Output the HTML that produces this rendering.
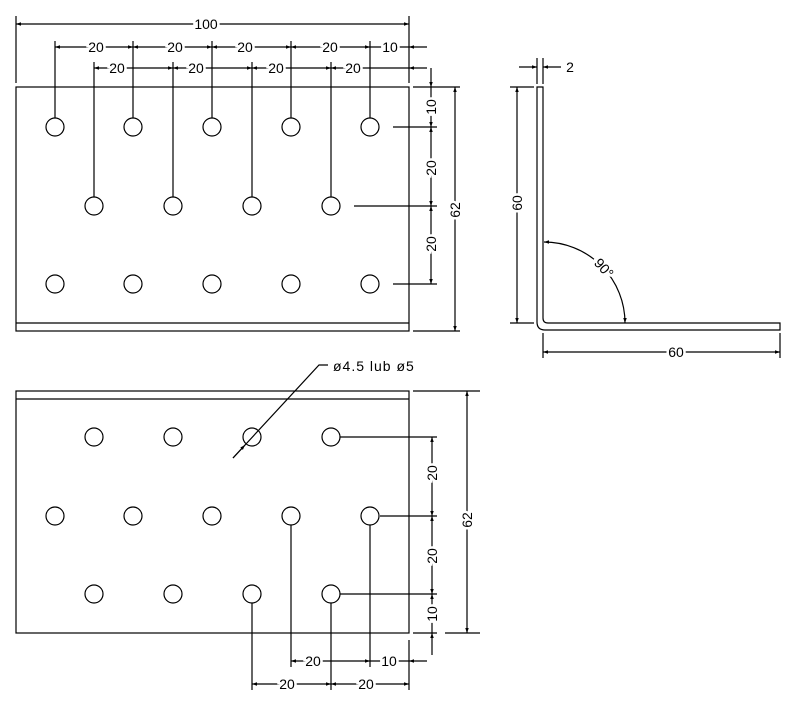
<!DOCTYPE html>
<html><head><meta charset="utf-8"><style>
html,body{margin:0;padding:0;background:#fff}
svg{display:block}
text{font-family:"Liberation Sans",sans-serif;font-size:14px;fill:#000;stroke:#fff;stroke-width:5px;paint-order:stroke;text-anchor:middle;dominant-baseline:central}
</style></head><body>
<svg width="794" height="703" viewBox="0 0 794 703" xmlns="http://www.w3.org/2000/svg">
<defs>
<marker id="a" viewBox="0 0 10 10" refX="10" refY="5" markerWidth="9" markerHeight="5" orient="auto-start-reverse" markerUnits="userSpaceOnUse"><path d="M0,1.5L10,5L0,8.5z" fill="#000"/></marker>
</defs>
<g stroke="#000" stroke-width="1.2" fill="none">
<rect x="16" y="87" width="393" height="244"/>
<line x1="16" y1="323" x2="409" y2="323"/>
<g>
<circle cx="55" cy="127" r="9"/><circle cx="133" cy="127" r="9"/><circle cx="212" cy="127" r="9"/><circle cx="291" cy="127" r="9"/><circle cx="370" cy="127" r="9"/>
<circle cx="94" cy="206" r="9"/><circle cx="173" cy="206" r="9"/><circle cx="252" cy="206" r="9"/><circle cx="331" cy="206" r="9"/>
<circle cx="55" cy="284" r="9"/><circle cx="133" cy="284" r="9"/><circle cx="212" cy="284" r="9"/><circle cx="291" cy="284" r="9"/><circle cx="370" cy="284" r="9"/>
</g>
<line x1="16" y1="16" x2="16" y2="83"/><line x1="409" y1="16" x2="409" y2="83"/>
<line x1="16" y1="24" x2="409" y2="24" marker-start="url(#a)" marker-end="url(#a)"/>
<line x1="55" y1="41" x2="55" y2="118"/><line x1="133" y1="41" x2="133" y2="118"/><line x1="212" y1="41" x2="212" y2="118"/><line x1="291" y1="41" x2="291" y2="118"/><line x1="370" y1="41" x2="370" y2="118"/>
<line x1="94" y1="62" x2="94" y2="197"/><line x1="173" y1="62" x2="173" y2="197"/><line x1="252" y1="62" x2="252" y2="197"/><line x1="331" y1="62" x2="331" y2="197"/>
<line x1="55" y1="47" x2="133" y2="47" marker-start="url(#a)" marker-end="url(#a)"/>
<line x1="133" y1="47" x2="212" y2="47" marker-start="url(#a)" marker-end="url(#a)"/>
<line x1="212" y1="47" x2="291" y2="47" marker-start="url(#a)" marker-end="url(#a)"/>
<line x1="291" y1="47" x2="370" y2="47" marker-start="url(#a)" marker-end="url(#a)"/>
<line x1="370" y1="47" x2="409" y2="47"/>
<line x1="427" y1="47" x2="409" y2="47" marker-end="url(#a)"/>
<line x1="94" y1="68" x2="173" y2="68" marker-start="url(#a)" marker-end="url(#a)"/>
<line x1="173" y1="68" x2="252" y2="68" marker-start="url(#a)" marker-end="url(#a)"/>
<line x1="252" y1="68" x2="331" y2="68" marker-start="url(#a)" marker-end="url(#a)"/>
<line x1="331" y1="68" x2="409" y2="68" marker-start="url(#a)"/>
<line x1="427" y1="68" x2="409" y2="68" marker-end="url(#a)"/>
<line x1="413" y1="87" x2="460" y2="87"/><line x1="413" y1="331" x2="460" y2="331"/>
<line x1="393" y1="127" x2="437" y2="127"/><line x1="354" y1="206" x2="437" y2="206"/><line x1="393" y1="284" x2="437" y2="284"/>
<line x1="431" y1="68" x2="431" y2="87" marker-end="url(#a)"/>
<line x1="431" y1="87" x2="431" y2="127" marker-end="url(#a)"/>
<line x1="431" y1="127" x2="431" y2="206" marker-start="url(#a)" marker-end="url(#a)"/>
<line x1="431" y1="206" x2="431" y2="284" marker-start="url(#a)" marker-end="url(#a)"/>
<line x1="455" y1="87" x2="455" y2="331" marker-start="url(#a)" marker-end="url(#a)"/>

<path d="M537,87 H543 V318 Q543,323 548,323 H780 V330 H545 Q537,330 537,322 Z"/>
<line x1="537" y1="58" x2="537" y2="84"/><line x1="543" y1="58" x2="543" y2="84"/>
<line x1="519" y1="67" x2="537" y2="67" marker-end="url(#a)"/>
<line x1="561" y1="67" x2="543" y2="67" marker-end="url(#a)"/>
<line x1="510" y1="87" x2="534" y2="87"/><line x1="510" y1="323" x2="534" y2="323"/>
<line x1="517" y1="87" x2="517" y2="323" marker-start="url(#a)" marker-end="url(#a)"/>
<line x1="543" y1="333" x2="543" y2="358"/><line x1="780" y1="333" x2="780" y2="358"/>
<line x1="543" y1="352" x2="780" y2="352" marker-start="url(#a)" marker-end="url(#a)"/>
<path d="M544,242 A81,81 0 0 1 625,323" marker-start="url(#a)" marker-end="url(#a)"/>

<rect x="16" y="391" width="393" height="242"/>
<line x1="16" y1="399" x2="409" y2="399"/>
<circle cx="94" cy="437" r="9"/><circle cx="173" cy="437" r="9"/><circle cx="252" cy="437" r="9"/><circle cx="331" cy="437" r="9"/>
<circle cx="55" cy="516" r="9"/><circle cx="133" cy="516" r="9"/><circle cx="212" cy="516" r="9"/><circle cx="291" cy="516" r="9"/><circle cx="370" cy="516" r="9"/>
<circle cx="94" cy="594" r="9"/><circle cx="173" cy="594" r="9"/><circle cx="252" cy="594" r="9"/><circle cx="331" cy="594" r="9"/>
<polyline points="233,458 319,365 328,365"/>
<line x1="233" y1="458" x2="245" y2="445" marker-end="url(#a)"/>
<line x1="340" y1="437" x2="437" y2="437"/><line x1="380" y1="516" x2="437" y2="516"/><line x1="340" y1="594" x2="437" y2="594"/>
<line x1="413" y1="391" x2="480" y2="391"/><line x1="413" y1="633" x2="437" y2="633"/><line x1="445" y1="633" x2="480" y2="633"/>
<line x1="432" y1="437" x2="432" y2="516" marker-start="url(#a)" marker-end="url(#a)"/>
<line x1="432" y1="516" x2="432" y2="594" marker-start="url(#a)" marker-end="url(#a)"/>
<line x1="432" y1="594" x2="432" y2="633" marker-start="url(#a)"/>
<line x1="432" y1="655" x2="432" y2="633" marker-end="url(#a)"/>
<line x1="467" y1="391" x2="467" y2="633" marker-start="url(#a)" marker-end="url(#a)"/>
<line x1="291" y1="525" x2="291" y2="667"/><line x1="370" y1="525" x2="370" y2="667"/>
<line x1="252" y1="603" x2="252" y2="690"/><line x1="331" y1="603" x2="331" y2="690"/>
<line x1="409" y1="640" x2="409" y2="690"/>
<line x1="291" y1="661" x2="370" y2="661" marker-start="url(#a)" marker-end="url(#a)"/>
<line x1="370" y1="661" x2="409" y2="661"/>
<line x1="427" y1="661" x2="409" y2="661" marker-end="url(#a)"/>
<line x1="252" y1="684" x2="331" y2="684" marker-start="url(#a)" marker-end="url(#a)"/>
<line x1="331" y1="684" x2="409" y2="684" marker-start="url(#a)" marker-end="url(#a)"/>
</g>
<text x="206" y="24">100</text>
<text x="96" y="47">20</text><text x="175" y="47">20</text><text x="245" y="47">20</text><text x="330" y="47">20</text><text x="390" y="47">10</text>
<text x="117" y="68">20</text><text x="196" y="68">20</text><text x="276" y="68">20</text><text x="353" y="68">20</text>
<text transform="translate(431,107) rotate(-90)">10</text>
<text transform="translate(431,168) rotate(-90)">20</text>
<text transform="translate(431,244) rotate(-90)">20</text>
<text transform="translate(455,210) rotate(-90)">62</text>
<text x="570" y="67" style="stroke:none">2</text>
<text transform="translate(517,203) rotate(-90)">60</text>
<text x="676" y="352">60</text>
<text transform="translate(604,268) rotate(48)" style="stroke-width:6px">90°</text>
<text x="333" y="366" style="stroke:none;text-anchor:start;letter-spacing:1px">ø4.5 lub ø5</text>
<text transform="translate(432,473) rotate(-90)">20</text>
<text transform="translate(432,556) rotate(-90)">20</text>
<text transform="translate(432,614) rotate(-90)">10</text>
<text transform="translate(467,520) rotate(-90)">62</text>
<text x="313" y="661">20</text><text x="389" y="661">10</text>
<text x="287" y="684">20</text><text x="366" y="684">20</text>
</svg>
</body></html>
